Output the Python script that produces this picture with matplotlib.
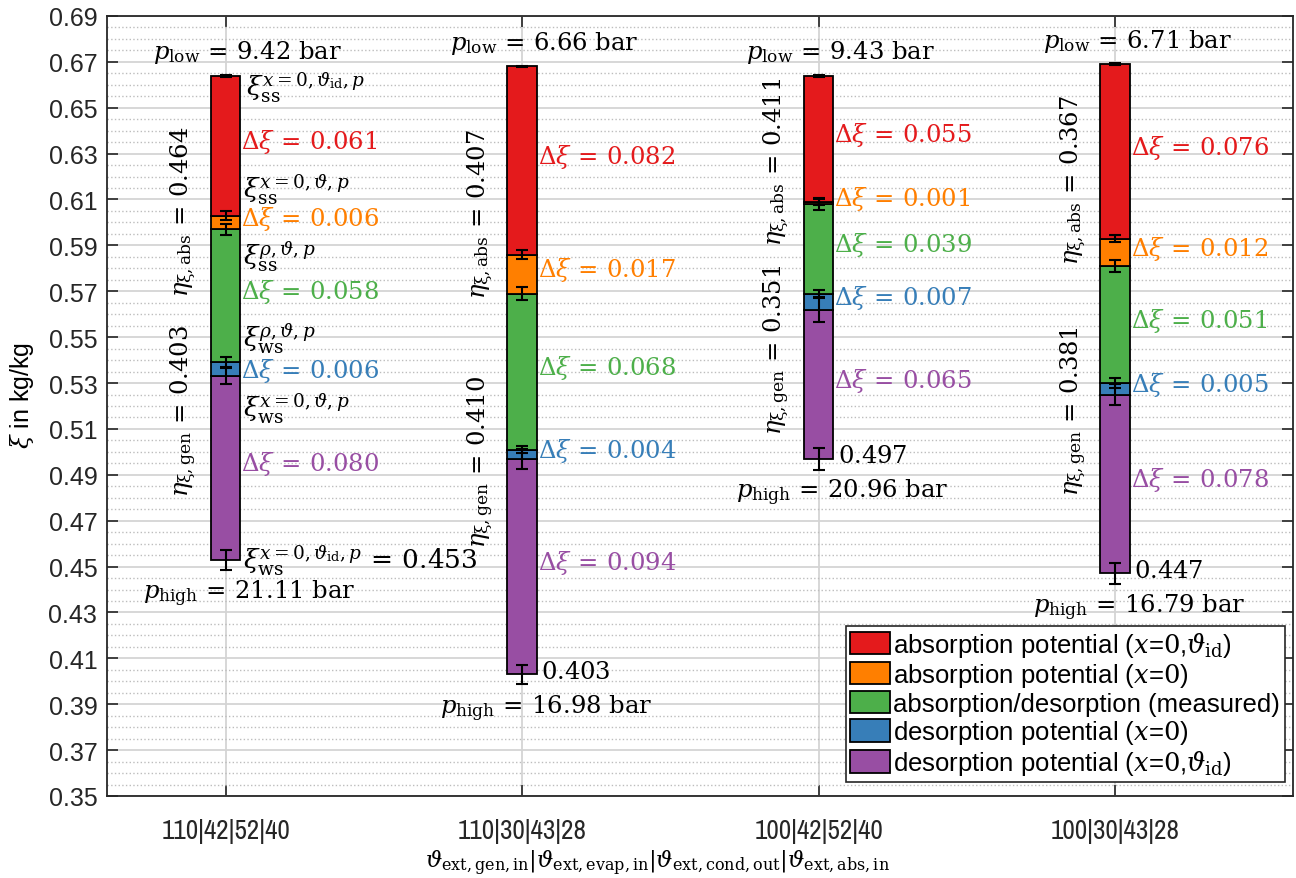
import matplotlib
matplotlib.use("Agg")
import matplotlib.pyplot as plt
from matplotlib import font_manager
from matplotlib.patches import Patch
from matplotlib.ticker import MultipleLocator
import numpy as np

# data
categories = ["110|42|52|40", "110|30|43|28", "100|42|52|40", "100|30|43|28"]
xi_bottom = [0.453, 0.403, 0.497, 0.447]
d_purple = [0.080, 0.094, 0.065, 0.078]   # desorption potential (x=0, theta_id)
d_blue = [0.006, 0.004, 0.007, 0.005]     # desorption potential (x=0)
d_green = [0.058, 0.068, 0.039, 0.051]    # measured
d_orange = [0.006, 0.017, 0.001, 0.012]   # absorption potential (x=0)
d_red = [0.061, 0.082, 0.055, 0.076]      # absorption potential (x=0, theta_id)
p_low = [9.42, 6.66, 9.43, 6.71]
p_high = [21.11, 16.98, 20.96, 16.79]
eta_abs = [0.464, 0.407, 0.411, 0.367]
eta_gen = [0.403, 0.410, 0.351, 0.381]

err_bottom = [0.0044, 0.0041, 0.0048, 0.0045]
err_purple = [0.0036, 0.0044, 0.0052, 0.0044]
err_blue = [0.0022, 0.0015, 0.0016, 0.0020]
err_green = [0.0025, 0.0028, 0.0026, 0.0028]
err_orange = [0.0020, 0.0020, 0.0013, 0.0017]
err_top = [0.0004, 0.0004, 0.0004, 0.0004]

# label anchors for the rotated efficiency texts
eta_abs_y = [0.605, 0.604, 0.627, 0.619]
eta_gen_y = [0.518, 0.496, 0.545, 0.518]

colors = ["#E41A1C", "#FF7F00", "#4DAF4A", "#377EB8", "#984EA3"]
c_red, c_orange, c_green, c_blue, c_purple = colors

plt.rcParams["font.family"] = ["Liberation Sans", "DejaVu Sans"]
plt.rcParams["mathtext.fontset"] = "dejavuserif"

# narrow font for the category labels if one is installed
narrow = None
for f in font_manager.fontManager.ttflist:
    if ("Narrow" in f.name or "Narrow" in f.fname) and f.style == "normal" and f.weight in (400, "normal", "regular"):
        narrow = f.fname
        break
if narrow is None:
    for f in font_manager.fontManager.ttflist:
        if "SansCondensed.ttf" in f.fname:
            narrow = f.fname
            break

fig = plt.figure(figsize=(12.96, 8.79), dpi=100)
ax = fig.add_axes([0.0826, 0.0933, 0.9151, 0.8874])

x = np.arange(1, len(categories) + 1)
w = 0.1
segs = [d_purple, d_blue, d_green, d_orange, d_red]
seg_cols = [c_purple, c_blue, c_green, c_orange, c_red]
bottom = np.array(xi_bottom, dtype=float)
tops = [bottom.copy()]
for vals, col in zip(segs, seg_cols):
    ax.bar(x, vals, w, bottom=bottom, color=col, edgecolor="black", linewidth=1.3, zorder=3)
    bottom = bottom + np.array(vals)
    tops.append(bottom.copy())

errs = [err_bottom, err_purple, err_blue, err_green, err_orange, err_top]
for yv, e in zip(tops, errs):
    ax.errorbar(x, yv, yerr=e, fmt="none", ecolor="black", elinewidth=1.5,
                capsize=4.5, capthick=1.5, zorder=4)

fs = 17.5
for i in range(len(x)):
    xi = x[i]
    b = tops[0][i]
    top = tops[-1][i]
    ax.text(xi + 0.075, top + 0.0105, r"$p_{\mathrm{low}}\,=\,%.2f\ \mathrm{bar}$" % p_low[i],
            ha="center", va="center", fontsize=fs, zorder=5)
    ax.text(xi + 0.08, b - 0.0145, r"$p_{\mathrm{high}}\,=\,%.2f\ \mathrm{bar}$" % p_high[i],
            ha="center", va="center", fontsize=fs, zorder=5)
    # delta labels
    for k, (vals, col) in enumerate(zip(segs, seg_cols)):
        mid = (tops[k][i] + tops[k + 1][i]) / 2 + 0.002
        if i == 0 and k == 1:
            mid -= 0.0025
        ax.text(xi + w / 2 + 0.003, mid, r"$\Delta\xi\,=\,%.3f$" % vals[i], color=col,
                ha="left", va="center", fontsize=fs, zorder=5)
    ax.text(xi - 0.14, eta_abs_y[i], r"$\eta_{\mathrm{\xi,abs}}\,=\,%.3f$" % eta_abs[i],
            rotation=90, ha="center", va="center", fontsize=fs, zorder=5)
    ax.text(xi - 0.14, eta_gen_y[i], r"$\eta_{\mathrm{\xi,gen}}\,=\,%.3f$" % eta_gen[i],
            rotation=90, ha="center", va="center", fontsize=fs, zorder=5)
    if i > 0:
        ax.text(xi + w / 2 + 0.015, b + 0.001, "$%.3f$" % xi_bottom[i],
                ha="left", va="center", fontsize=fs, zorder=5)

# boundary labels for the first bar
fx = 19
xl = x[0] + w / 2 + 0.02
ax.text(xl, tops[5][0] - 0.005, r"$\xi_{\mathrm{ss}}^{x=0,\vartheta_{\mathrm{id}},p}$", ha="left", va="center", fontsize=fx, zorder=5)
ax.text(xl - 0.01, tops[4][0] + 0.0118, r"$\xi_{\mathrm{ss}}^{x=0,\vartheta,p}$", ha="left", va="center", fontsize=fx, zorder=5)
ax.text(xl - 0.01, tops[3][0] - 0.0116, r"$\xi_{\mathrm{ss}}^{\rho,\vartheta,p}$", ha="left", va="center", fontsize=fx, zorder=5)
ax.text(xl - 0.01, tops[2][0] + 0.011, r"$\xi_{\mathrm{ws}}^{\rho,\vartheta,p}$", ha="left", va="center", fontsize=fx, zorder=5)
ax.text(xl - 0.01, tops[1][0] - 0.0135, r"$\xi_{\mathrm{ws}}^{x=0,\vartheta,p}$", ha="left", va="center", fontsize=fx, zorder=5)
ax.text(xl - 0.01, tops[0][0], r"$\xi_{\mathrm{ws}}^{x=0,\vartheta_{\mathrm{id}},p}\,=\,%.3f$" % xi_bottom[0],
        ha="left", va="center", fontsize=fx, zorder=5)

ax.set_xlim(0.6, 4.6)
ax.set_ylim(0.35, 0.69)
ax.set_xticks(x)
if narrow is not None:
    ax.set_xticklabels(categories, fontproperties=font_manager.FontProperties(fname=narrow, size=19.5))
else:
    ax.set_xticklabels(categories, fontsize=16.5)
for t in ax.get_xticklabels():
    t.set_color("#333333")
ax.set_yticks(np.arange(0.35, 0.6901, 0.02))
ax.set_yticklabels(["%.2f" % v for v in np.arange(0.35, 0.6901, 0.02)], fontsize=18)
ax.yaxis.set_minor_locator(MultipleLocator(0.005))
ax.tick_params(which="major", direction="in", length=8, width=1.2, top=True, right=True, pad=7, colors="#262626")
ax.tick_params(axis="x", pad=16)
ax.tick_params(which="minor", length=0)
ax.grid(True, which="major", color="#d4d4d4", linewidth=1.3, zorder=0)
ax.grid(True, which="minor", axis="y", color="#bdbdbd", linestyle=":", linewidth=1.0, zorder=0)
ax.set_axisbelow(True)
for s in ax.spines.values():
    s.set_linewidth(1.3)
    s.set_color("#262626")

ax.set_ylabel(r"$\xi$ in kg/kg", fontsize=18)
ax.yaxis.set_label_coords(-0.06, 0.515)
ax.set_xlabel(r"$\vartheta_{\mathrm{ext,gen,in}}|\vartheta_{\mathrm{ext,evap,in}}|\vartheta_{\mathrm{ext,cond,out}}|\vartheta_{\mathrm{ext,abs,in}}$",
              fontsize=16.5)
ax.xaxis.set_label_coords(0.464, -0.066)

labels = [r"absorption potential ($\mathit{x}$=$\mathit{0}$,$\vartheta_{\mathrm{id}}$)",
          r"absorption potential ($\mathit{x}$=$\mathit{0}$)",
          "absorption/desorption (measured)",
          r"desorption potential ($\mathit{x}$=$\mathit{0}$)",
          r"desorption potential ($\mathit{x}$=$\mathit{0}$,$\vartheta_{\mathrm{id}}$)"]
handles = [Patch(facecolor=c, edgecolor="black", linewidth=1.3) for c in colors]
leg = ax.legend(handles, labels, loc="lower right", bbox_to_anchor=(0.993, 0.018), fontsize=18.5,
                frameon=True, fancybox=False, framealpha=1, edgecolor="#262626",
                handlelength=1.55, handleheight=0.95, handletextpad=0.12, labelspacing=0.08,
                borderpad=0.18, borderaxespad=0.0)
leg.get_frame().set_linewidth(1.2)

fig.savefig("out.png", dpi=100)
